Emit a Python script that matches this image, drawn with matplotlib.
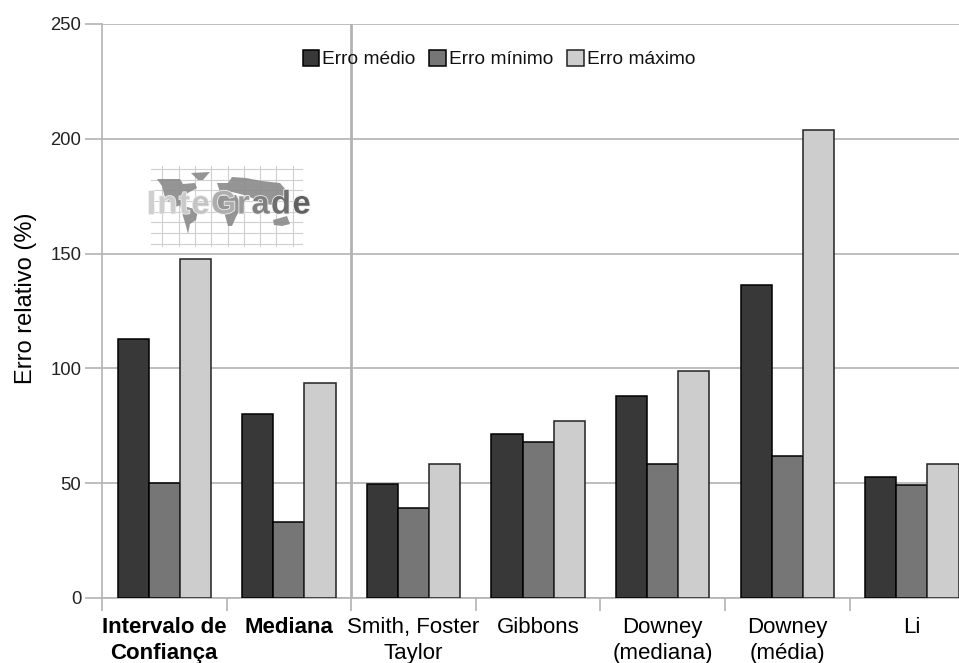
import numpy as np
import matplotlib
matplotlib.use('Agg')
import matplotlib.pyplot as plt
import matplotlib.patheffects as pe
from matplotlib.patches import Polygon

plt.rcParams['font.family'] = ['Liberation Sans', 'DejaVu Sans']

categories = ['Intervalo de\nConfiança', 'Mediana', 'Smith, Foster\nTaylor', 'Gibbons',
              'Downey\n(mediana)', 'Downey\n(média)', 'Li']
erro_medio = [113, 80, 49.5, 71.5, 88, 136.5, 52.5]
erro_minimo = [50, 33, 39, 68, 58.5, 62, 49]
erro_maximo = [147.5, 93.5, 58.5, 77, 99, 204, 58.5]
y_ticks = [0, 50, 100, 150, 200, 250]

GRID = '#b3b3b3'
W, H = 959, 663

fig = plt.figure(figsize=(W / 100, H / 100), dpi=100)
ax = fig.add_axes([102 / W, (H - 598) / H, (W - 102) / W, (598 - 24) / H])
ax.set_xlim(0, (W - 102) / 124.6)
ax.set_ylim(0, 250)

x = np.arange(len(categories)) + 0.5
bw = 0.25
ax.bar(x - bw, erro_medio, bw, color='#383838', edgecolor='black', lw=1.1, label='Erro médio', zorder=3)
ax.bar(x, erro_minimo, bw, color='#767676', edgecolor='black', lw=1.1, label='Erro mínimo', zorder=3)
ax.bar(x + bw, erro_maximo, bw, color='#cdcdcd', edgecolor='#222222', lw=1.1, label='Erro máximo', zorder=3)

ax.set_yticks(y_ticks)
ax.set_xticks(np.arange(len(categories)))
ax.set_xticklabels([])
ax.grid(axis='y', color=GRID, lw=1.2, zorder=0)
ax.set_axisbelow(True)
ax.tick_params(axis='y', length=12, width=1.2, color=GRID, labelsize=13.3, pad=3, labelcolor='#222222')
ax.tick_params(axis='x', length=9, width=1.2, color=GRID)
for s in ['top', 'right']:
    ax.spines[s].set_visible(False)
for s in ['left', 'bottom']:
    ax.spines[s].set_color(GRID)
    ax.spines[s].set_linewidth(1.2)
ax.axvline(2, color=GRID, lw=2, zorder=1)
ax.set_ylabel('Erro relativo (%)', fontsize=17, labelpad=9.5, y=0.523)

# category labels, the first two are bold
for i, c in enumerate(categories):
    ax.annotate(c, (x[i], 0), xytext=(0, -13.5), textcoords='offset points', ha='center', va='top',
                fontsize=16, linespacing=1.33, fontweight='bold' if i < 2 else 'normal', color='black')

leg = ax.legend(loc='upper center', bbox_to_anchor=(0.463, 0.955), ncol=3,
                frameon=False, fontsize=13.8, handlelength=0.88, handleheight=0.9,
                handletextpad=0.12, columnspacing=0.75, borderpad=0, borderaxespad=0)
for t in leg.get_texts():
    t.set_color('#111111')

# logo: grid, rough continents and the InteGrade word, placed in pixel coordinates
logo = fig.add_axes([0, 0, 1, 1], facecolor='none')
logo.set_xlim(0, W)
logo.set_ylim(H, 0)
logo.axis('off')
for yy in [169, 180, 190, 201, 212, 222, 233, 244]:
    logo.plot([151, 302], [yy, yy], color='#cfcfcf', lw=0.8, zorder=1)
for xx in [162, 179, 195, 211, 228, 244, 260, 276, 293]:
    logo.plot([xx, xx], [166, 246], color='#cfcfcf', lw=0.8, zorder=1)
continents = [
    [(157, 179), (180, 179), (183, 184), (195, 183), (197, 188), (186, 194), (184, 204), (175, 207), (165, 198), (162, 186)],
    [(191, 173), (210, 172), (203, 180), (198, 180)],
    [(180, 205), (198, 210), (196, 220), (190, 224), (188, 234), (186, 226), (183, 216)],
    [(217, 183), (228, 183), (232, 177), (246, 178), (262, 181), (280, 183), (286, 190), (284, 197), (272, 205), (262, 203), (248, 196), (232, 192), (220, 192)],
    [(216, 196), (236, 195), (242, 206), (236, 217), (232, 226), (228, 226), (224, 212), (216, 205)],
    [(273, 220), (287, 216), (290, 224), (282, 226), (274, 225)],
]
for pts in continents:
    logo.add_patch(Polygon(pts, closed=True, fc='#8a8a8a', ec='none', alpha=0.9, zorder=2))
word = 'InteGrade'
word_x = [147, 157.5, 179, 191.5, 211, 237, 251.5, 271, 292.5]
word_col = ['#cfcfcf', '#cdcdcd', '#cacaca', '#c4c4c4', '#aeaeae', '#9a9a9a', '#808080', '#6e6e6e', '#606060']
for ch, xx, cc in zip(word, word_x, word_col):
    logo.text(xx, 205, ch, fontsize=23.5, fontweight='bold', color=cc, va='center', ha='left', zorder=3,
              path_effects=[pe.withStroke(linewidth=1.2, foreground='#eeeeee')])

fig.savefig('out.png', dpi=100)
